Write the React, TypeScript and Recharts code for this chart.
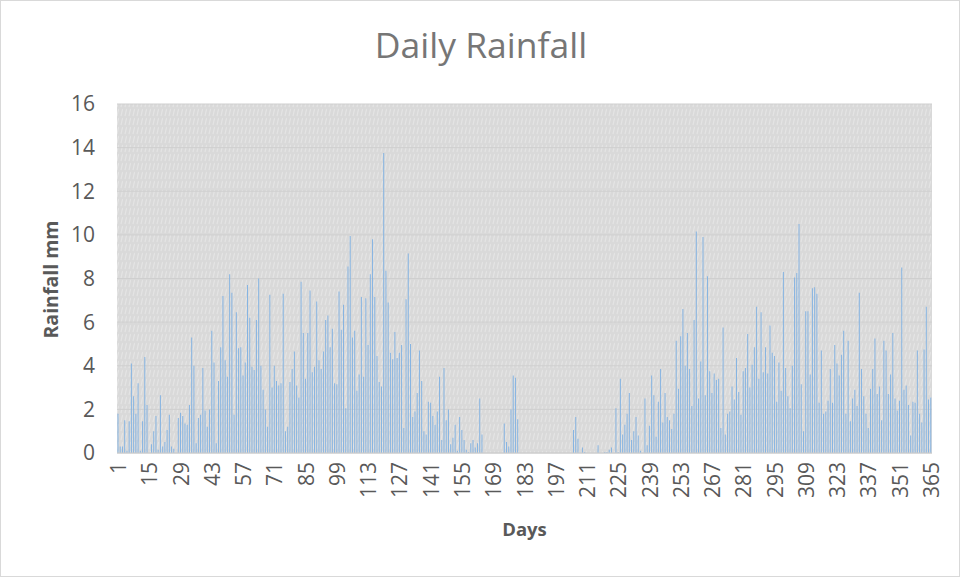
import React from "react";
import { BarChart, Bar, XAxis, YAxis, CartesianGrid } from "recharts";

const chartTitle = "Daily Rainfall";
const xAxisTitle = "Days";
const yAxisTitle = "Rainfall mm";

// Daily rainfall (mm), days 1..365
const rainJanFeb = [
  1.8, 0.3, 0.3, 1.5, 0.1, 1.45, 4.1, 2.6, 1.8, 3.2, 0.1, 1.45, 4.4, 2.2, 0, 0.4, 1.0, 1.7, 0.15, 2.65,
  0.3, 0.5, 1.05, 1.75, 0.3, 0.2, 0, 1.6, 1.85, 1.7, 1.35, 1.3, 2.2, 5.3, 4.0, 0.45, 1.6, 1.75, 3.9, 1.95,
];
const rainFebMar = [
  1.2, 2.0, 5.6, 4.15, 0.45, 3.3, 4.85, 7.2, 4.25, 3.5, 8.2, 7.35, 1.75, 6.45, 4.8, 4.85, 3.55, 4.15, 7.7, 6.2,
  3.95, 3.8, 6.1, 8.0, 4.0, 2.9, 2.0, 1.2, 7.25, 3.0, 4.0, 3.3, 3.1, 3.2, 7.3, 1.0, 1.2, 3.25, 3.85, 4.65, 3.1,
];
const rainMarMay = [
  2.55, 7.85, 5.5, 3.4, 5.5, 7.45, 3.7, 3.95, 6.95, 4.25, 3.85, 4.65, 6.1, 6.3, 4.85, 5.7, 3.2, 3.15, 7.4, 5.65,
  6.8, 2.05, 8.55, 9.95, 5.3, 5.6, 2.85, 3.6, 7.15, 3.5, 7.1, 4.95, 8.2, 9.8, 7.15, 4.45, 3.25, 3.05, 13.75, 8.35,
  6.9, 4.6,
];
const rainMayJun = [
  4.3, 5.55, 4.35, 4.6, 4.95, 1.15, 7.05, 9.15, 5.0, 1.65, 1.9, 2.75, 4.7, 3.3, 1.0, 0.85, 2.35, 2.3, 1.7, 1.3,
  1.9, 3.5, 0.6, 3.9, 1.5, 2.0, 0.4, 0.7, 1.3, 0.1, 1.65, 1.05, 0.6, 0.15, 0.05, 0.45, 0.6, 0.25, 0.45, 2.5, 0.85,
];
const rainJunJul = [
  0, 0, 0, 0, 0, 0, 0, 0, 0, 1.35, 0.5, 0.3, 2.0, 3.55, 3.45, 1.55,
  0, 0, 0, 0, 0, 0, 0, 0, 0, 0, 0, 0, 0, 0, 0, 0, 0, 0, 0, 0, 0, 0, 0, 0, 1.05,
];
const rainJulSep = [
  1.65, 0.65, 0, 0.25, 0.05, 0, 0, 0, 0, 0, 0.35, 0, 0, 0.05, 0.05, 0.15, 0.25, 0, 2.05, 0.05,
  3.4, 0.85, 1.3, 1.8, 2.75, 0.6, 1.0, 1.65, 0.8, 0.1, 0, 2.5, 0.35, 1.25, 3.55, 2.65, 0.75, 2.35, 3.85, 1.4, 2.75,
];
const rainSepOct = [
  1.65, 1.5, 1.1, 1.8, 5.15, 2.95, 5.35, 6.6, 4.0, 5.5, 3.85, 2.15, 6.1, 10.15, 2.5, 4.2, 9.9, 2.65, 8.1, 3.75,
  2.75, 3.65, 3.35, 3.4, 1.15, 5.75, 0.85, 1.8, 1.9, 3.05, 2.45, 4.35, 2.8, 1.75, 3.75, 3.9, 5.45, 3.0, 4.05, 4.85,
  6.7, 3.4,
];
const rainOctNov = [
  6.45, 3.7, 4.85, 3.65, 5.85, 4.6, 4.45, 2.35, 4.15, 2.85, 8.3, 3.9, 2.6, 2.05, 4.0, 8.05, 8.25, 10.5, 3.15, 1.0,
  6.5, 6.5, 3.6, 7.55, 7.6, 7.3, 2.3, 4.7, 1.8, 1.9, 2.4, 3.85, 2.3, 4.95, 4.1, 3.55, 4.5, 5.6, 1.8, 5.15, 1.45,
];
const rainNovDec = [
  2.5, 2.9, 2.15, 7.35, 3.85, 2.6, 1.8, 1.15, 2.95, 3.85, 5.25, 2.7, 3.05, 1.5, 5.15, 4.7, 2.7, 3.6, 5.5, 2.5,
  1.95, 2.4, 8.5, 2.9, 3.1, 2.2, 0.8, 2.35, 2.3, 4.7, 1.8, 1.4, 4.75, 6.7, 2.45, 2.55,
];

const rainfall = [
  ...rainJanFeb, ...rainFebMar, ...rainMarMay, ...rainMayJun, ...rainJunJul,
  ...rainJulSep, ...rainSepOct, ...rainOctNov, ...rainNovDec,
];

const days = rainfall.map((_, i) => i + 1);
const xTicks = [1, 15, 29, 43, 57, 71, 85, 99, 113, 127, 141, 155, 169, 183, 197, 211, 225, 239, 253, 267, 281, 295, 309, 323, 337, 351, 365];
const yTicks = [0, 2, 4, 6, 8, 10, 12, 14, 16];

const data = days.map((d, i) => ({ day: d, rain: rainfall[i] }));

const FONT = "'Open Sans', 'Noto Sans', sans-serif";
const TEXT = "#595959";

const XTick = (props: any) => {
  const { x, y, payload } = props;
  return (
    <text
      x={x}
      y={y}
      transform={`rotate(-90, ${x}, ${y})`}
      textAnchor="end"
      dominantBaseline="central"
      fontFamily={FONT}
      fontSize={21}
      fill={TEXT}
    >
      {payload.value}
    </text>
  );
};

export default function App() {
  return (
    <div
      style={{
        position: "fixed",
        left: 0,
        top: 0,
        width: 960,
        height: 577,
        background: "#ffffff",
        border: "1px solid #d9d9d9",
        boxSizing: "border-box",
        fontFamily: FONT,
      }}
    >
      <div
        style={{
          position: "absolute",
          left: 0,
          top: 20,
          width: 960,
          textAlign: "center",
          fontSize: 35.5,
          lineHeight: "47px",
          color: "#767676",
          fontFamily: FONT,
        }}
      >
        {chartTitle}
      </div>
      <div style={{ position: "absolute", left: -1, top: -1 }}>
        <BarChart
          width={960}
          height={577}
          data={data}
          margin={{ top: 104, right: 28, bottom: 0, left: 0 }}
          barCategoryGap="22%"
        >
          <defs>
            <pattern id="plotPattern" patternUnits="userSpaceOnUse" width="4" height="9">
              <rect x="0" y="0" width="4" height="9" fill="#d9d9d9" />
              <line x1="1" y1="8" x2="2.6" y2="1" stroke="#e4e4e4" strokeWidth="1.2" />
            </pattern>
          </defs>
          <CartesianGrid vertical={false} stroke="#cfcfcf" fill="url(#plotPattern)" />
          <XAxis
            dataKey="day"
            ticks={xTicks}
            interval={0}
            height={124}
            tickLine={false}
            tickSize={0}
            tickMargin={9}
            axisLine={{ stroke: "#cccccc" }}
            tick={<XTick />}
            label={(p: any) => {
              const vb = p.viewBox || { x: 117, y: 453, width: 815 };
              return (
                <text
                  x={vb.x + vb.width / 2}
                  y={vb.y + 83}
                  textAnchor="middle"
                  fontFamily={FONT}
                  fontWeight="bold"
                  fontSize={18.5}
                  fill={TEXT}
                >
                  {xAxisTitle}
                </text>
              );
            }}
          />
          <YAxis
            width={117}
            domain={[0, 16]}
            ticks={yTicks}
            interval={0}
            axisLine={false}
            tickLine={false}
            tickSize={0}
            tickMargin={22}
            tick={{ fontFamily: FONT, fontSize: 21, fill: TEXT }}
            label={(p: any) => {
              const vb = p.viewBox || { x: 0, y: 104, width: 117, height: 349 };
              const cx = 50;
              const cy = vb.y + vb.height / 2 + 1;
              return (
                <text
                  x={cx}
                  y={cy}
                  transform={`rotate(-90, ${cx}, ${cy})`}
                  textAnchor="middle"
                  dominantBaseline="central"
                  fontFamily={FONT}
                  fontWeight="bold"
                  fontSize={19.5}
                  fill={TEXT}
                >
                  {yAxisTitle}
                </text>
              );
            }}
          />
          <Bar dataKey="rain" fill="#86b4e2" isAnimationActive={false} />
        </BarChart>
      </div>
    </div>
  );
}
